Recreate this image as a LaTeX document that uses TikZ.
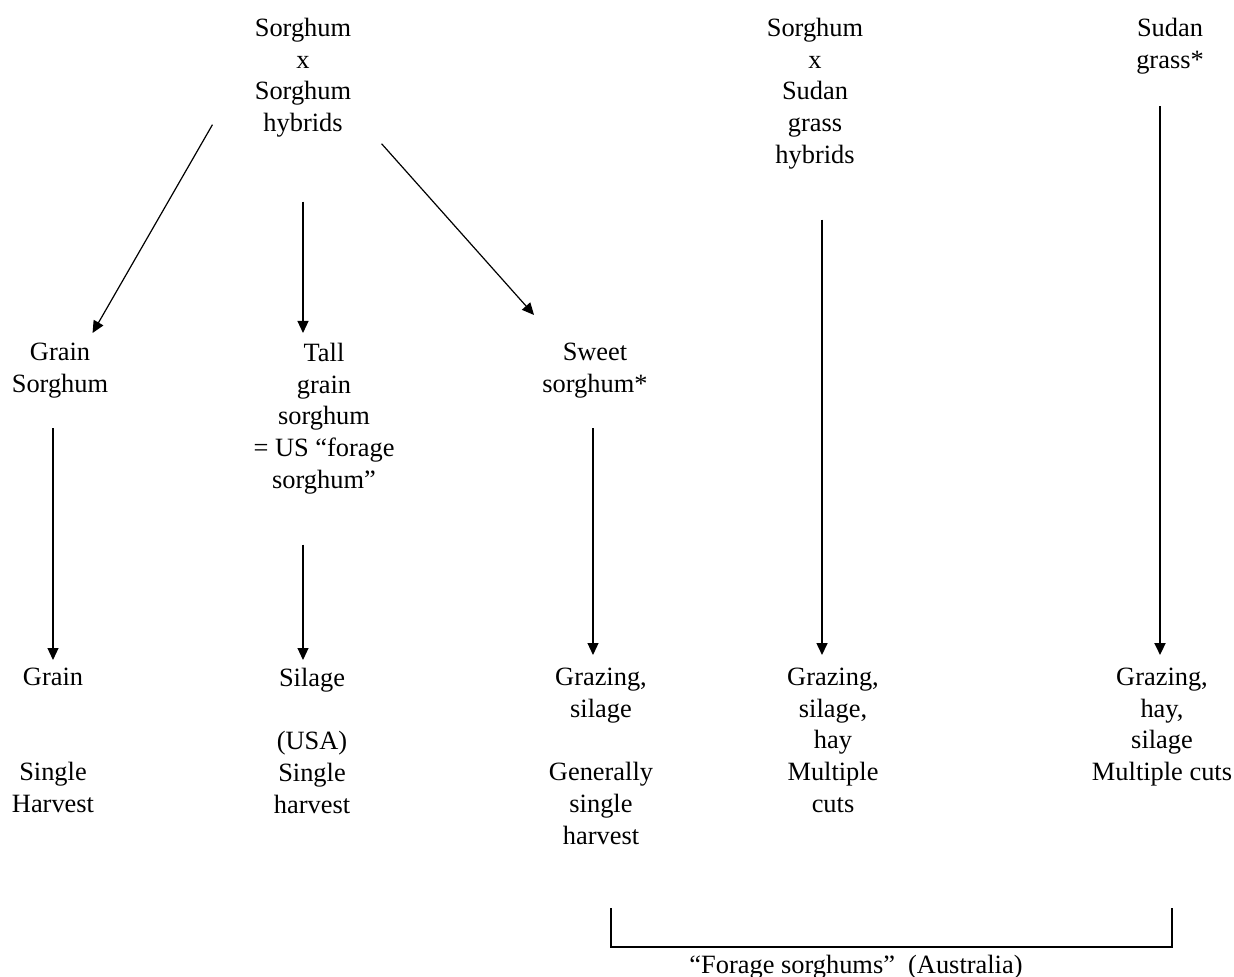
\documentclass[tikz,border=0pt]{standalone}
\usepackage{fontspec}
\setmainfont{Liberation Serif}
\usetikzlibrary{arrows.meta, calc}

\begin{document}
\begin{tikzpicture}[x=0.5pt, y=-0.5pt,
  txt/.style={align=center, inner sep=0pt, anchor=north,
    font=\fontsize{13.2}{15.9}\selectfont},
  arr/.style={line width=0.6pt, -{Triangle[length=6pt,width=5.5pt]}},
  brk/.style={line width=1pt}]
\useasboundingbox (0,0) rectangle (1234,977);
% Parent crosses
\node[txt] (ss) at (303,17.5) {Sorghum\\x\\Sorghum\\hybrids};
\node[txt] (sx) at (815,17.5) {Sorghum\\x\\Sudan\\grass\\hybrids};
\node[txt] (sg) at (1170,17.5) {Sudan\\grass*};
% Types of sorghum
\node[txt] (gs) at (60,342.5) {Grain\\Sorghum};
\node[txt] (tg) at (324,342.5) {Tall\\grain\\sorghum\\= US “forage\\sorghum”};
\node[txt] (sw) at (595,342.5) {Sweet\\sorghum*};
% Uses and harvests
\node[txt] (u1) at (53,667.5) {Grain\\[2\baselineskip]Single\\Harvest};
\node[txt] (u2) at (312,667.5) {Silage\\[\baselineskip](USA)\\Single\\harvest};
\node[txt] (u3) at (601,667.5) {Grazing,\\silage\\[\baselineskip]Generally\\single\\harvest};
\node[txt] (u4) at (833,667.5) {Grazing,\\silage,\\hay\\Multiple\\cuts};
\node[txt] (u5) at (1162,667.5) {Grazing,\\hay,\\silage\\Multiple cuts};
\node[txt] (fs) at (856,955) {“Forage sorghums”~~(Australia)};
% Arrows from the crosses
\draw[arr] ($(ss.south west)+(-42,-13)$) -- ($(gs.north east)+(-16,-9.5)$);
\draw[arr] ($(ss.south)+(0,64)$) -- ($(ss.south |- tg.north)+(0,-9.5)$);
\draw[arr] ($(ss.south east)+(30,6)$) -- ($(sw.north west)+(-8,-27.5)$);
% Arrows down to the uses
\draw[arr] ($(u1.north |- gs.south)+(0,30)$) -- ($(u1.north)+(0,-7.5)$);
\draw[arr] ($(tg.south)+(-21,50)$) -- ($(u2.north)+(-9,-7.5)$);
\draw[arr] ($(sw.south)+(-2,30)$) -- ($(u3.north)+(-8,-12.5)$);
\draw[arr, line width=0.8pt] ($(sx.south)+(7,50)$) -- ($(u4.north)+(-11,-12.5)$);
\draw[arr, line width=1pt] ($(sg.south)+(-10,32)$) -- ($(u5.north)+(-2,-12.5)$);
% Bracket over the forage sorghums
\draw[brk] ($(fs.north)+(-245,-47)$) -- ++(0,39) -| ($(fs.north)+(316,-47)$);
\end{tikzpicture}
\end{document}
